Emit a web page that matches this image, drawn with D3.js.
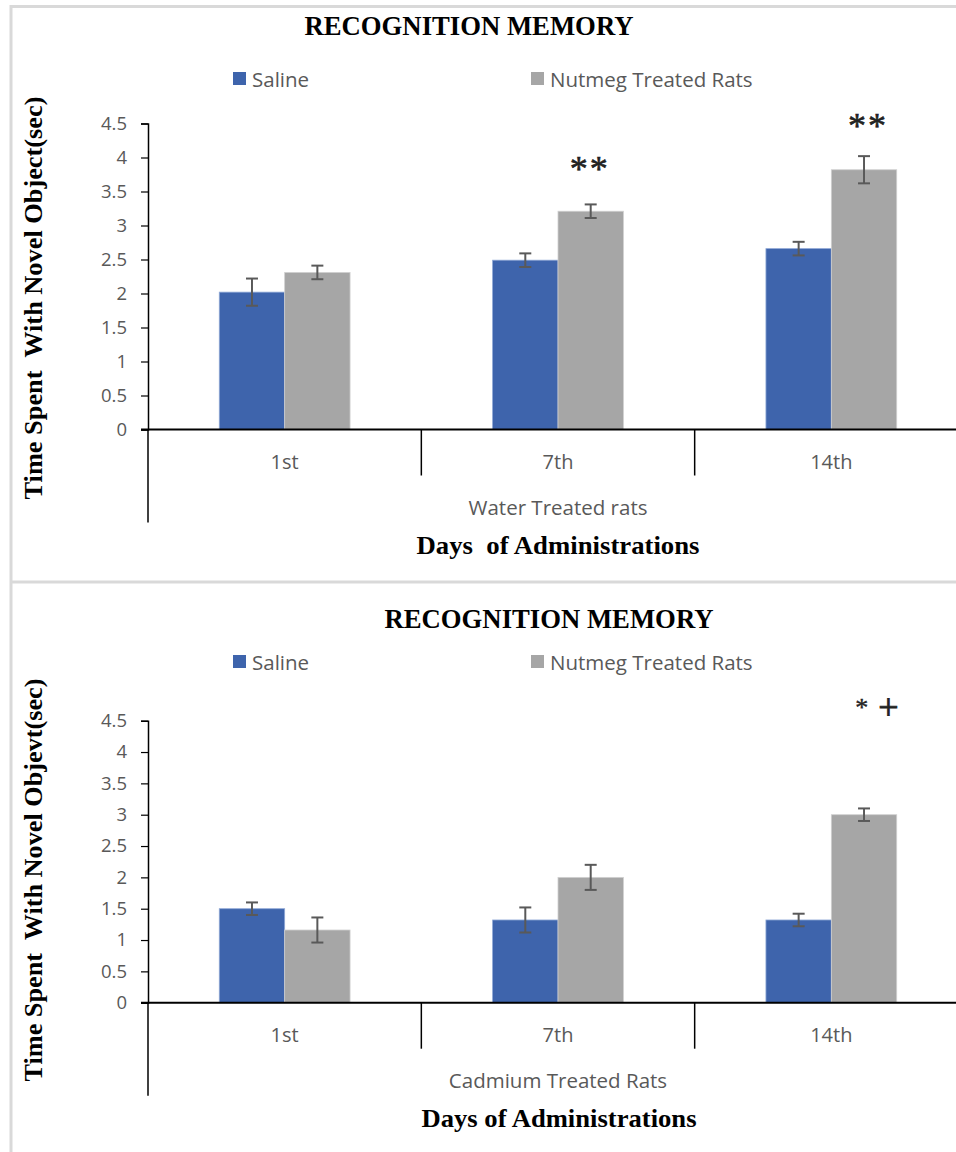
<!DOCTYPE html>
<html>
<head>
<meta charset="utf-8">
<script src="https://cdn.jsdelivr.net/npm/d3@7"></script>
<style>
  html, body { margin: 0; padding: 0; background: #ffffff; }
  svg { display: block; }
</style>
</head>
<body>
<svg id="chart" width="956" height="1152"></svg>
<script>
// ---------- data ----------
const categories = ["1st", "7th", "14th"];
const seriesNames = ["Saline", "Nutmeg Treated Rats"];
const yTicks = [0, 0.5, 1, 1.5, 2, 2.5, 3, 3.5, 4, 4.5];

// Panel 1: water treated rats
const waterSaline = [2.02, 2.49, 2.66];
const waterSalineErr = [0.2, 0.1, 0.1];
const waterNutmeg = [2.31, 3.21, 3.82];
const waterNutmegErr = [0.1, 0.1, 0.2];
const waterMarks = ["", "**", "**"];

// Panel 2: cadmium treated rats
const cadSaline = [1.5, 1.32, 1.32];
const cadSalineErr = [0.1, 0.2, 0.1];
const cadNutmeg = [1.16, 2.0, 3.0];
const cadNutmegErr = [0.2, 0.2, 0.1];
const cadMarks = ["", "", "* +"];

// ---------- drawing ----------
const svg = d3.select("#chart");
const colors = ["#3E64AC", "#A6A6A6"];
const serif = "'Liberation Serif', 'Times New Roman', serif";
const sans = "'Open Sans', 'Noto Sans', sans-serif";
const gray = "#595959";

// frame
const frame = svg.append("g").attr("stroke", "#d9d9d9").attr("stroke-width", 3);
frame.append("line").attr("x1", 10).attr("x2", 956).attr("y1", 6.5).attr("y2", 6.5);
frame.append("line").attr("x1", 11).attr("x2", 11).attr("y1", 5).attr("y2", 1152);
frame.append("line").attr("x1", 10).attr("x2", 956).attr("y1", 582).attr("y2", 582);

function drawPanel(cfg) {
  const g = svg.append("g");
  const x = d3.scaleBand().domain(categories).range([148, 968]).paddingInner(0).paddingOuter(0);
  const xs = d3.scaleBand().domain(seriesNames).range([0, x.bandwidth()]).paddingInner(0).paddingOuter(1.09);
  const y = d3.scaleLinear().domain([0, 4.5]).range([cfg.y0, cfg.y45]);

  // title
  g.append("text").attr("x", cfg.titleX).attr("y", cfg.titleY)
    .attr("text-anchor", "middle").attr("font-family", serif).attr("font-weight", "bold")
    .attr("font-size", 26.5).attr("textLength", 329).attr("lengthAdjust", "spacingAndGlyphs")
    .attr("fill", "#000").text("RECOGNITION MEMORY");

  // legend
  const legX = [233, 531];
  seriesNames.forEach((s, i) => {
    g.append("rect").attr("x", legX[i]).attr("y", cfg.legY - 7).attr("width", 13).attr("height", 13)
      .attr("fill", colors[i]);
    g.append("text").attr("x", legX[i] + 19).attr("y", cfg.legY + 7.5)
      .attr("font-family", sans).attr("font-size", 20.5).attr("fill", gray).text(s);
  });

  // bars
  const series = [cfg.saline, cfg.nutmeg];
  const errs = [cfg.salineErr, cfg.nutmegErr];
  series.forEach((vals, si) => {
    g.selectAll(null).data(vals).join("rect")
      .attr("x", (d, i) => x(categories[i]) + xs(seriesNames[si]))
      .attr("y", d => y(d))
      .attr("width", xs.bandwidth())
      .attr("height", d => y(0) - y(d))
      .attr("fill", colors[si])
      .attr("stroke", si === 0 ? "#8fa8d6" : "#d0d0d0").attr("stroke-width", 0.8);
  });

  // error bars
  series.forEach((vals, si) => {
    vals.forEach((v, i) => {
      const cx = x(categories[i]) + xs(seriesNames[si]) + xs.bandwidth() / 2;
      const e = errs[si][i];
      const eg = g.append("g").attr("stroke", gray).attr("stroke-width", 2);
      eg.append("line").attr("x1", cx).attr("x2", cx).attr("y1", y(v + e)).attr("y2", y(v - e));
      eg.append("line").attr("x1", cx - 6).attr("x2", cx + 6).attr("y1", y(v + e)).attr("y2", y(v + e));
      eg.append("line").attr("x1", cx - 6).attr("x2", cx + 6).attr("y1", y(v - e)).attr("y2", y(v - e));
    });
  });

  // significance marks
  cfg.marks.forEach((m, i) => {
    if (!m) return;
    const cx = x(categories[i]) + xs(seriesNames[1]) + xs.bandwidth() / 2 + cfg.markDx[i];
    const top = y(cfg.nutmeg[i] + cfg.nutmegErr[i]) - cfg.markDy[i];
    const t = g.append("text").attr("x", cx).attr("y", top).attr("text-anchor", "middle")
      .attr("font-family", serif).attr("fill", "#222");
    if (m === "**") {
      t.attr("font-size", 36).attr("stroke", "#222").attr("stroke-width", 0.6)
        .attr("letter-spacing", 2).text(m);
    } else {
      const parts = m.split(" ");
      t.append("tspan").attr("font-size", 26).attr("stroke", "#222").attr("stroke-width", 0.4).text(parts[0]);
      t.append("tspan").attr("font-size", 36).attr("stroke", "#222").attr("stroke-width", 0.8)
        .attr("dx", 10).attr("dy", 3).text(parts[1]);
    }
  });

  // y axis
  const yAxis = d3.axisLeft(y).tickValues(yTicks).tickSize(7).tickPadding(14)
    .tickFormat(d => String(d));
  const ya = g.append("g").attr("transform", "translate(148,0)").call(yAxis);
  ya.select(".domain").attr("stroke", "#000").attr("stroke-width", 1.5);
  ya.selectAll(".tick line").attr("stroke", "#000").attr("stroke-width", 1.2);
  ya.selectAll(".tick text").attr("font-family", sans).attr("font-size", 18.5).attr("fill", gray);

  // y axis extension below zero
  g.append("line").attr("x1", 148).attr("x2", 148).attr("y1", y(0)).attr("y2", cfg.y0 + 93)
    .attr("stroke", "#000").attr("stroke-width", 1.5);

  // x axis
  g.append("line").attr("x1", 141).attr("x2", 968).attr("y1", y(0)).attr("y2", y(0))
    .attr("stroke", "#000").attr("stroke-width", 2);
  categories.slice(1).forEach(c => {
    g.append("line").attr("x1", x(c)).attr("x2", x(c)).attr("y1", y(0)).attr("y2", y(0) + 46)
      .attr("stroke", "#000").attr("stroke-width", 1.5);
  });
  categories.forEach(c => {
    g.append("text").attr("x", x(c) + x.bandwidth() / 2).attr("y", y(0) + 39)
      .attr("text-anchor", "middle").attr("font-family", sans).attr("font-size", 20)
      .attr("fill", gray).text(c);
  });

  // group label
  g.append("text").attr("x", 558).attr("y", y(0) + 85).attr("text-anchor", "middle")
    .attr("font-family", sans).attr("font-size", 20.5).attr("fill", gray).text(cfg.group);

  // x axis title
  g.append("text").attr("x", cfg.xTitleX).attr("y", y(0) + 124).attr("text-anchor", "middle")
    .attr("font-family", serif).attr("font-weight", "bold").attr("font-size", 26)
    .attr("textLength", cfg.xTitleLen).attr("lengthAdjust", "spacingAndGlyphs")
    .attr("fill", "#000").style("white-space", "pre").text(cfg.xTitle);

  // y axis title
  g.append("text").attr("transform", `translate(42,${cfg.yTitleY}) rotate(-90)`)
    .attr("text-anchor", "middle").attr("font-family", serif).attr("font-weight", "bold")
    .attr("font-size", 26).attr("textLength", 403).attr("lengthAdjust", "spacingAndGlyphs")
    .attr("fill", "#000").style("white-space", "pre").text(cfg.yTitle);
}

drawPanel({
  y0: 429.5, y45: 123.5, titleX: 469, titleY: 35, legY: 79,
  saline: waterSaline, salineErr: waterSalineErr, nutmeg: waterNutmeg, nutmegErr: waterNutmegErr,
  marks: waterMarks, markDx: [0, -1, 4], markDy: [0, 23, 18],
  group: "Water Treated rats", xTitle: "Days  of Administrations", xTitleX: 558, xTitleLen: 283,
  yTitle: "Time Spent  With Novel Object(sec)", yTitleY: 298
});

drawPanel({
  y0: 1002.7, y45: 720.7, titleX: 549, titleY: 628, legY: 662,
  saline: cadSaline, salineErr: cadSalineErr, nutmeg: cadNutmeg, nutmegErr: cadNutmegErr,
  marks: cadMarks, markDx: [0, 0, 13], markDy: [0, 0, 92],
  group: "Cadmium Treated Rats", xTitle: "Days of Administrations", xTitleX: 559, xTitleLen: 275,
  yTitle: "Time Spent  With Novel Objevt(sec)", yTitleY: 880
});
</script>
</body>
</html>
